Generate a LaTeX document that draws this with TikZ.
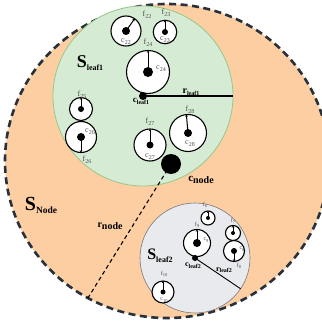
\documentclass[tikz,border=0pt]{standalone}
\usepackage{fontspec}
\setmainfont{Liberation Serif}
\usetikzlibrary{arrows.meta,calc,shapes.geometric}
\definecolor{peach}{RGB}{252,206,162}
\definecolor{leafgreen}{RGB}{214,235,212}
\definecolor{leafgreenb}{RGB}{150,200,140}
\definecolor{leafgray}{RGB}{233,234,237}
\definecolor{leafgrayb}{RGB}{120,120,125}
\definecolor{borderc}{RGB}{40,48,60}
\definecolor{lblgray}{RGB}{80,80,80}
\newcommand{\Lab}[5]{{\fontsize{#1}{#1}\selectfont\bfseries #2\raisebox{-#5}{\fontsize{#3}{#3}\selectfont #4}}}
\newcommand{\Sm}[4]{{\fontsize{#1}{#1}\selectfont #2\raisebox{-0.25em}{\fontsize{#3}{#3}\selectfont #4}}}
\tikzset{
  ring/.style={circle, draw=black, fill=white, line width=1.1pt, inner sep=0pt, outer sep=0pt},
  dot/.style={circle, fill=black, inner sep=0pt, outer sep=0pt},
  fline/.style={line width=1pt, -{Stealth[length=2.2pt,width=2.6pt]}},
  txt/.style={inner sep=0pt, outer sep=0pt, text=lblgray},
  btxt/.style={inner sep=0pt, outer sep=0pt, text=black}
}
\begin{document}
\begin{tikzpicture}[x=1pt,y=-1pt]
\useasboundingbox (0,0) rectangle (321,323);
% outer node sphere
\node[ellipse, fill=peach, draw=borderc, line width=2.6pt, dash pattern=on 7pt off 4.5pt,
      minimum width=324pt, minimum height=314pt, inner sep=0pt, outer sep=0pt] (snode) at (167,161) {};
% leaf spheres
\node[circle, fill=leafgreen, draw=leafgreenb, line width=0.8pt, minimum size=180pt, inner sep=0pt, outer sep=0pt] (leaf1) at (143,96) {};
\node[circle, fill=leafgray, draw=leafgrayb, line width=0.6pt, minimum size=110pt, inner sep=0pt, outer sep=0pt] (leaf2) at (195,258) {};

% ---- leaf1 children
\node[ring, minimum size=30pt] (k22) at (126,31) {};
\node[dot, minimum size=8pt] (d22) at (k22.center) {};
\draw[fline] (d22.center) -- (k22.55);
\node[txt] (f22) at (147,15) {\Sm{8}{f}{6}{22}};
\node[txt] (c22) at (126,42) {\Sm{8}{c}{6}{22}};

\node[ring, minimum size=23.5pt] (k23) at (165,32) {};
\node[dot, minimum size=6pt] (d23) at (k23.center) {};
\draw[fline] (d23.center) -- (k23.north);
\node[txt] (f23) at (166,13) {\Sm{8}{f}{6}{23}};
\node[txt] (c23) at (165,40) {\Sm{8}{c}{6}{23}};

\node[ring, minimum size=43pt] (k24) at (148,72) {};
\node[dot, minimum size=10pt] (d24) at (k24.center) {};
\draw[fline] (d24.center) -- (k24.north);
\node[txt] (f24) at (148,43) {\Sm{8}{f}{6}{24}};
\node[txt] (c24) at (161,69) {\Sm{8}{c}{6}{24}};

\node[ring, minimum size=23pt] (k25) at (81,109) {};
\node[dot, minimum size=6pt] (d25) at (k25.center) {};
\draw[fline] (d25.center) -- (k25.north);
\node[txt] (f25) at (82,95) {\Sm{8}{f}{6}{25}};

\node[ring, minimum size=31pt] (k26) at (81,137) {};
\node[dot, minimum size=8pt] (d26) at (k26.center) {};
\draw[fline] (d26.center) -- (k26.south);
\node[txt] (f26) at (87,160) {\Sm{8}{f}{6}{26}};
\node[txt] (c26) at (90,132) {\Sm{8}{c}{6}{26}};

\node[ring, minimum size=32pt] (k27) at (150,145) {};
\node[dot, minimum size=7pt] (d27) at (k27.center) {};
\draw[fline] (d27.center) -- (k27.north);
\node[txt] (f27) at (150,122) {\Sm{8}{f}{6}{27}};
\node[txt] (c27) at (150,157) {\Sm{8}{c}{6}{27}};

\node[ring, minimum size=37pt] (k28) at (188,133) {};
\node[dot, minimum size=8pt] (d28) at (k28.center) {};
\draw[fline] (d28.center) -- (k28.95);
\node[txt] (f28) at (190,110) {\Sm{8}{f}{6}{28}};
\node[txt] (c28) at (190,144) {\Sm{8}{c}{6}{28}};

% leaf1 centre and radius
\node[dot, minimum size=8pt] (cl1) at (leaf1.center) {};
\draw[line width=1.1pt] (cl1.center) -- (leaf1.east);
\node[btxt] (lcl1) at (141,101.5) {\Lab{9}{c}{6}{leaf1}{1.5pt}};
\node[btxt] (lrl1) at (191,92) {\Lab{10}{r}{6}{leaf1}{2pt}};

% ---- leaf2 children
\node[ring, minimum size=27pt] (k9) at (197,243) {};
\node[dot, minimum size=8pt] (d9) at (k9.center) {};
\draw[fline] (d9.center) -- (k9.north);
\node[txt] (f9) at (197,225) {\Sm{6}{f}{4.5}{9}};
\node[txt] (c9) at (206,240) {\Sm{6}{c}{4.5}{9}};

\node[ring, minimum size=14pt] (k6) at (208,218) {};
\node[dot, minimum size=4pt] (d6) at (k6.center) {};
\draw[fline] (d6.center) -- (k6.north);
\node[txt] (f6) at (205,205) {\Sm{6}{f}{4.5}{6}};

\node[ring, minimum size=15pt] (k7) at (233,233) {};
\node[dot, minimum size=4pt] (d7) at (k7.center) {};
\draw[fline] (d7.center) -- (k7.north);
\node[txt] (f7) at (233,221) {\Sm{6}{f}{4.5}{7}};

\node[ring, minimum size=21pt] (k8) at (234,251) {};
\node[dot, minimum size=6pt] (d8) at (k8.center) {};
\draw[fline] (d8.center) -- (k8.south);
\node[txt] (c8) at (242,249) {\Sm{6}{c}{4.5}{8}};
\node[txt] (f8) at (239,266) {\Sm{6}{f}{4.5}{8}};

\node[ring, minimum size=22pt] (k10) at (163,292) {};
\node[dot, minimum size=5pt] (d10) at (k10.center) {};
\draw[fline] (d10.center) -- (k10.north);
\node[txt] (f10) at (164,274) {\Sm{6}{f}{4.5}{10}};
\node[txt] (c10) at (164,300) {\Sm{6}{c}{4.5}{10}};

% leaf2 centre and radius
\node[dot, minimum size=6pt] (cl2) at (leaf2.center) {};
\draw[line width=0.9pt] (cl2.center) -- (leaf2.-34);
\node[btxt] (lcl2) at (193,265.5) {\Lab{8}{c}{6}{leaf2}{1.5pt}};
\node[btxt] (lrl2) at (224,270) {\Lab{8}{r}{6}{leaf2}{1.5pt}};

% node centre and radius
\node[dot, minimum size=20pt] (cnode) at (171,164) {};
\draw[line width=1.1pt, dash pattern=on 4pt off 3pt] (cnode.center) -- (snode.240.5);
\node[btxt] (lcn) at (201,180) {\Lab{11}{c}{10}{node}{1.5pt}};
\node[btxt] (lrn) at (110,226) {\Lab{10}{r}{10}{node}{1.5pt}};

% sphere labels
\node[btxt] (lsn) at (41,205) {\Lab{20}{S}{9.5}{Node}{3pt}};
\node[btxt] (lsl1) at (90,63) {\Lab{18}{S}{8}{leaf1}{3pt}};
\node[btxt] (lsl2) at (160,256) {\Lab{16}{S}{8}{leaf2}{3pt}};
\end{tikzpicture}
\end{document}
